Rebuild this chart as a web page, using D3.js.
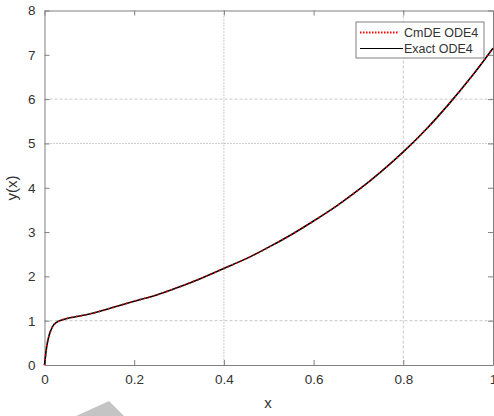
<!DOCTYPE html>
<html>
<head>
<meta charset="utf-8">
<script src="https://cdn.jsdelivr.net/npm/d3@7"></script>
<style>
body { margin: 0; background: #fff; overflow: hidden; }
text { font-family: "Liberation Sans", Arial, sans-serif; fill: #333; }
</style>
</head>
<body>
<div id="chart"></div>
<script>
// values
var xs = [0, 0.005, 0.01, 0.015, 0.02, 0.025, 0.03, 0.04, 0.05, 0.075, 0.1, 0.15, 0.2, 0.25, 0.3, 0.35, 0.4, 0.45, 0.5, 0.55, 0.6, 0.65, 0.7, 0.75, 0.8, 0.85, 0.9, 0.95, 1.0];
var exactY = [0, 0.42, 0.66, 0.80, 0.90, 0.95, 0.98, 1.02, 1.05, 1.10, 1.15, 1.29, 1.44, 1.58, 1.76, 1.96, 2.18, 2.40, 2.66, 2.94, 3.25, 3.58, 3.95, 4.36, 4.81, 5.31, 5.87, 6.48, 7.15];
var cmdeY  = [0, 0.42, 0.66, 0.80, 0.90, 0.95, 0.98, 1.02, 1.05, 1.10, 1.15, 1.29, 1.44, 1.58, 1.76, 1.96, 2.18, 2.40, 2.66, 2.94, 3.25, 3.58, 3.95, 4.36, 4.81, 5.31, 5.87, 6.48, 7.15];
var xTicks = [0, 0.2, 0.4, 0.6, 0.8, 1];
var yTicks = [0, 1, 2, 3, 4, 5, 6, 7, 8];
var xGrid = [0.4, 0.8];
var yGrid = [1, 5, 6];
var seriesNames = ["CmDE ODE4", "Exact ODE4"];

var w = 494, h = 416;
var pLeft = 44.5, pRight = 493, pTop = 10.5, pBottom = 365;

var svg = d3.select("#chart").append("svg").attr("width", w).attr("height", h);

var x = d3.scaleLinear().domain([0, 1]).range([pLeft, pRight]);
var y = d3.scaleLinear().domain([0, 8]).range([pBottom, pTop]);

// grid (only the lines that show in the picture)
svg.selectAll("line.gx").data(xGrid).enter().append("line")
	.attr("x1", function(d) { return x(d); }).attr("x2", function(d) { return x(d); })
	.attr("y1", pTop).attr("y2", pBottom)
	.attr("stroke", function(d, i) { return i == 0 ? "#999" : "#c8c8c8"; })
	.attr("stroke-dasharray", function(d, i) { return i == 0 ? "1,2" : "3,2"; })
	.attr("stroke-width", 1);
svg.selectAll("line.gy").data(yGrid).enter().append("line")
	.attr("y1", function(d) { return y(d); }).attr("y2", function(d) { return y(d); })
	.attr("x1", pLeft).attr("x2", pRight)
	.attr("stroke", function(d) { return d == 5 ? "#999" : "#c8c8c8"; })
	.attr("stroke-dasharray", function(d) { return d == 5 ? "1,2" : "3,2"; })
	.attr("stroke-width", 1);

// axes, ticks inward on all four sides
var axisCol = "#808080";
var bx = svg.append("g").attr("transform", "translate(0," + pBottom + ")")
	.call(d3.axisBottom(x).tickValues(xTicks).tickSizeInner(-5).tickSizeOuter(0).tickPadding(9)
		.tickFormat(function(d) { return d == 0 || d == 1 ? d : d3.format(".1f")(d); }));
var tx = svg.append("g").attr("transform", "translate(0," + pTop + ")")
	.call(d3.axisTop(x).tickValues(xTicks).tickSizeInner(-5).tickSizeOuter(0).tickFormat(""));
var ly = svg.append("g").attr("transform", "translate(" + pLeft + ",0)")
	.call(d3.axisLeft(y).tickValues(yTicks).tickSizeInner(-5).tickSizeOuter(0).tickPadding(9));
var ry = svg.append("g").attr("transform", "translate(" + pRight + ",0)")
	.call(d3.axisRight(y).tickValues(yTicks).tickSizeInner(-5).tickSizeOuter(0).tickFormat(""));

[bx, tx, ly, ry].forEach(function(g) {
	g.selectAll("path, line").attr("stroke", axisCol);
	g.selectAll("text").attr("font-size", 13.5).attr("fill", "#2b2b2b")
		.attr("font-family", "Liberation Sans, Arial, sans-serif");
});

// curves
var line = d3.line()
	.curve(d3.curveMonotoneX)
	.x(function(d) { return x(d[0]); })
	.y(function(d) { return y(d[1]); });

svg.append("path").datum(d3.zip(xs, exactY))
	.attr("d", line).attr("fill", "none").attr("stroke", "#000").attr("stroke-width", 1.6);
svg.append("path").datum(d3.zip(xs, cmdeY))
	.attr("d", line).attr("fill", "none").attr("stroke", "#f00").attr("stroke-width", 1.8)
	.attr("stroke-dasharray", "1.2,3.5");

// axis labels
svg.append("text").attr("x", 268).attr("y", 408).attr("text-anchor", "middle")
	.attr("font-size", 15).text("x");
svg.append("text").attr("transform", "translate(17,188) rotate(-90)").attr("text-anchor", "middle")
	.attr("font-size", 15).text("y(x)");

// legend
var lg = svg.append("g");
lg.append("rect").attr("x", 356).attr("y", 22).attr("width", 128).attr("height", 36)
	.attr("fill", "#fff").attr("stroke", "#808080").attr("stroke-width", 1);
lg.append("line").attr("x1", 360).attr("x2", 399).attr("y1", 32.5).attr("y2", 32.5)
	.attr("stroke", "#f00").attr("stroke-width", 2).attr("stroke-dasharray", "1.5,1.5");
lg.append("line").attr("x1", 360).attr("x2", 403).attr("y1", 48.5).attr("y2", 48.5)
	.attr("stroke", "#000").attr("stroke-width", 1.2);
lg.selectAll("text").data(seriesNames).enter().append("text")
	.attr("x", 404).attr("y", function(d, i) { return 37 + i * 16; })
	.attr("font-size", 12.5).attr("fill", "#222").text(function(d) { return d; });

// faint watermark fragment at the bottom edge
svg.append("path").attr("d", "M76,416 L109,401 L124,416 Z").attr("fill", "#c4c4c4");
</script>
</body>
</html>
